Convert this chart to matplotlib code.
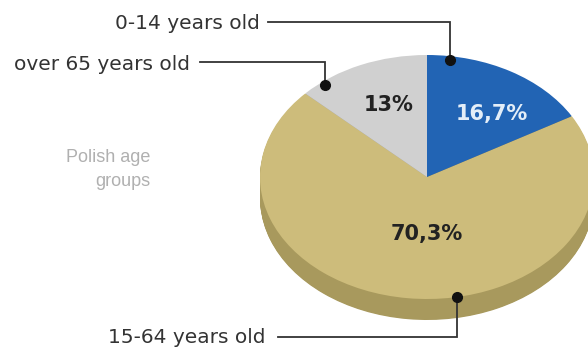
import matplotlib
matplotlib.use('Agg')
import matplotlib.pyplot as plt
import numpy as np

# Data
groups = ['0-14 years old', '15-64 years old', 'over 65 years old']
shares = [16.7, 70.3, 13.0]
top_colors = ['#2264b4', '#cdbc7b', '#d0d0d0']
side_colors = ['#17457e', '#a8995d', '#9a9a9a']
pct_colors = ['#e4eef8', '#222222', '#222222']
title_lines = ['Polish age', 'groups']

# Layout (pixel space of the 588x349 picture)
CX, CY = 427, 177      # pie centre
RX, RY = 167, 122      # ellipse radii
DEPTH = 21             # side thickness
TEXT_DARK = '#333333'

# leader layout per group: text right edge, text baseline, line y, line start x, dot angle
label_layout = {
    '0-14 years old':    dict(tx=260, ty=29, ly=21.5, lx=268, ang=81.8),
    '15-64 years old':   dict(tx=266, ty=343, ly=336.5, lx=278, ang=-79.5),
    'over 65 years old': dict(tx=190, ty=70.5, ly=62, lx=200, ang=128.8),
}
pct_pos = {
    '0-14 years old': (492, 114),
    '15-64 years old': (427, 234),
    'over 65 years old': (389, 105),
}


def px(x, y):
    return (x - CX) / RX, (CY - y) / RY


def fmt_pct(v):
    if float(v).is_integer():
        return f'{int(v)}%'
    return f'{v:.1f}'.replace('.', ',') + '%'


fig = plt.figure(figsize=(5.88, 3.49), dpi=100)
ax = fig.add_axes([0, 0, 1, 1])

# side of the disc: stacked darker layers
depth_u = DEPTH / RY
for off in np.linspace(depth_u, 0.01, 30):
    ax.pie(shares, colors=side_colors, startangle=90, counterclock=False,
           radius=1, center=(0, -off), frame=False,
           wedgeprops={'linewidth': 0, 'antialiased': True})

# top surface
wedges, _ = ax.pie(shares, colors=top_colors, startangle=90, counterclock=False,
                   radius=1, center=(0, 0), frame=False,
                   wedgeprops={'linewidth': 0, 'antialiased': True})

# percentages
for g, v, c in zip(groups, shares, pct_colors):
    x, y = px(*pct_pos[g])
    ax.text(x, y, fmt_pct(v), ha='center', va='center', fontsize=15,
            fontweight='bold', color=c)

# leader lines and labels
for g in groups:
    L = label_layout[g]
    a = np.deg2rad(L['ang'])
    r = 0.97 if L['ang'] > 0 else 1.0
    dx, dy = r * np.cos(a), r * np.sin(a)
    dot_px = CX + dx * RX
    sx, sy = px(L['lx'], L['ly'])
    ex, ey = px(dot_px, L['ly'])
    ax.plot([sx, ex, dx], [sy, ey, dy], color=TEXT_DARK, lw=1.3,
            solid_joinstyle='miter')
    ax.plot([dx], [dy], 'o', color='#111111', markersize=7)
    tx, ty = px(L['tx'], L['ty'])
    ax.text(tx, ty, g, ha='right', va='baseline', fontsize=14.5,
            color=TEXT_DARK)

# side caption
for i, line in enumerate(title_lines):
    x, y = px(150, 157 + i * 24)
    ax.text(x, y, line, ha='right', va='center', fontsize=13,
            family=['Liberation Sans', 'DejaVu Sans'], color='#b0b0b0')

x0, y0 = px(0, 349)
x1, y1 = px(588, 0)
ax.set_aspect('auto')
ax.set_xlim(x0, x1)
ax.set_ylim(y0, y1)
ax.axis('off')

fig.savefig('out.png', dpi=100, facecolor='white')
